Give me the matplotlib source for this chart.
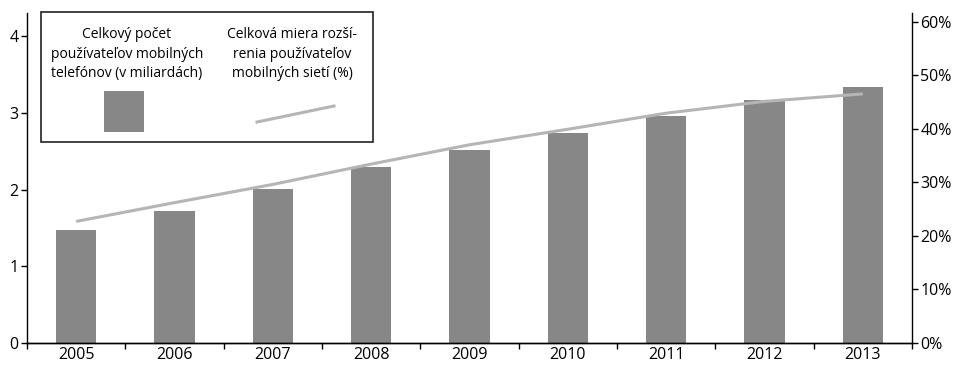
import numpy as np
import matplotlib.pyplot as plt
from matplotlib.patches import Rectangle
from matplotlib.lines import Line2D

plt.rcParams['font.family'] = ['Open Sans', 'DejaVu Sans']

years = ['2005', '2006', '2007', '2008', '2009', '2010', '2011', '2012', '2013']
users_bn = [1.47, 1.72, 2.01, 2.29, 2.51, 2.73, 2.96, 3.16, 3.34]
penetration = [22.7, 26.2, 29.6, 33.4, 37.0, 39.9, 42.9, 45.1, 46.5]

bar_label = 'Celkový počet\npoužívateľov mobilných\ntelefónov (v miliardách)'
line_label = 'Celková miera rozší-\nrenia používateľov\nmobilných sietí (%)'

bar_color = '#878787'
line_color = '#b5b5b5'

fig = plt.figure(figsize=(9.55, 3.65), dpi=100)
ax = fig.add_axes([27 / 955, 22 / 365, 885 / 955, 330 / 365])
x = np.arange(len(years))
ax.bar(x, users_bn, width=0.41, color=bar_color, zorder=2)
ax.set_xlim(-0.5, len(years) - 0.5)
ax.set_ylim(0, 4.3)
ax.set_yticks([0, 1, 2, 3, 4])
ax.set_xticks(x)
ax.set_xticklabels(years)
ax.set_xticks(np.arange(-0.5, len(years)), minor=True)
ax.tick_params(axis='x', which='major', length=0, labelsize=11.5, pad=3)
ax.tick_params(axis='x', which='minor', length=4, width=1, direction='out')
ax.tick_params(axis='y', length=4, width=1, labelsize=11.5, pad=2)
ax.spines['top'].set_visible(False)
ax.spines['right'].set_visible(False)

ax2 = ax.twinx()
ax2.plot(x, penetration, color=line_color, lw=2.2, solid_capstyle='butt', zorder=3)
ax2.set_ylim(0, 61.6)
ax2.set_yticks(range(0, 61, 10))
ax2.set_yticklabels([f'{v}%' for v in range(0, 61, 10)])
ax2.tick_params(axis='y', length=4, width=1, labelsize=11.5, pad=2)
ax2.spines['top'].set_visible(False)
ax2.spines['left'].set_visible(False)
for a in (ax, ax2):
    for s in a.spines.values():
        s.set_linewidth(1)

# legend box drawn by hand (text above swatches)
W, H = 955, 365
def fx(px):
    return px / W
def fy(py):
    return 1 - py / H

fig.patches.append(Rectangle((fx(41), fy(142)), fx(373) - fx(41), fy(12) - fy(142),
                             transform=fig.transFigure, fill=True, facecolor='white',
                             edgecolor='#222222', lw=1.2, zorder=5))
fig.patches.append(Rectangle((fx(104), fy(132)), fx(144) - fx(104), fy(91) - fy(132),
                             transform=fig.transFigure, facecolor=bar_color,
                             edgecolor='none', zorder=6))
fig.lines.append(Line2D([fx(257), fx(334)], [fy(122), fy(106)], transform=fig.transFigure,
                        color=line_color, lw=2.2, zorder=6))
fig.text(fx(127), fy(54), bar_label, ha='center', va='center', fontsize=10,
         linespacing=1.45, zorder=6)
fig.text(fx(292), fy(54), line_label, ha='center', va='center', fontsize=10,
         linespacing=1.45, zorder=6)

fig.savefig('out.png', dpi=100)
